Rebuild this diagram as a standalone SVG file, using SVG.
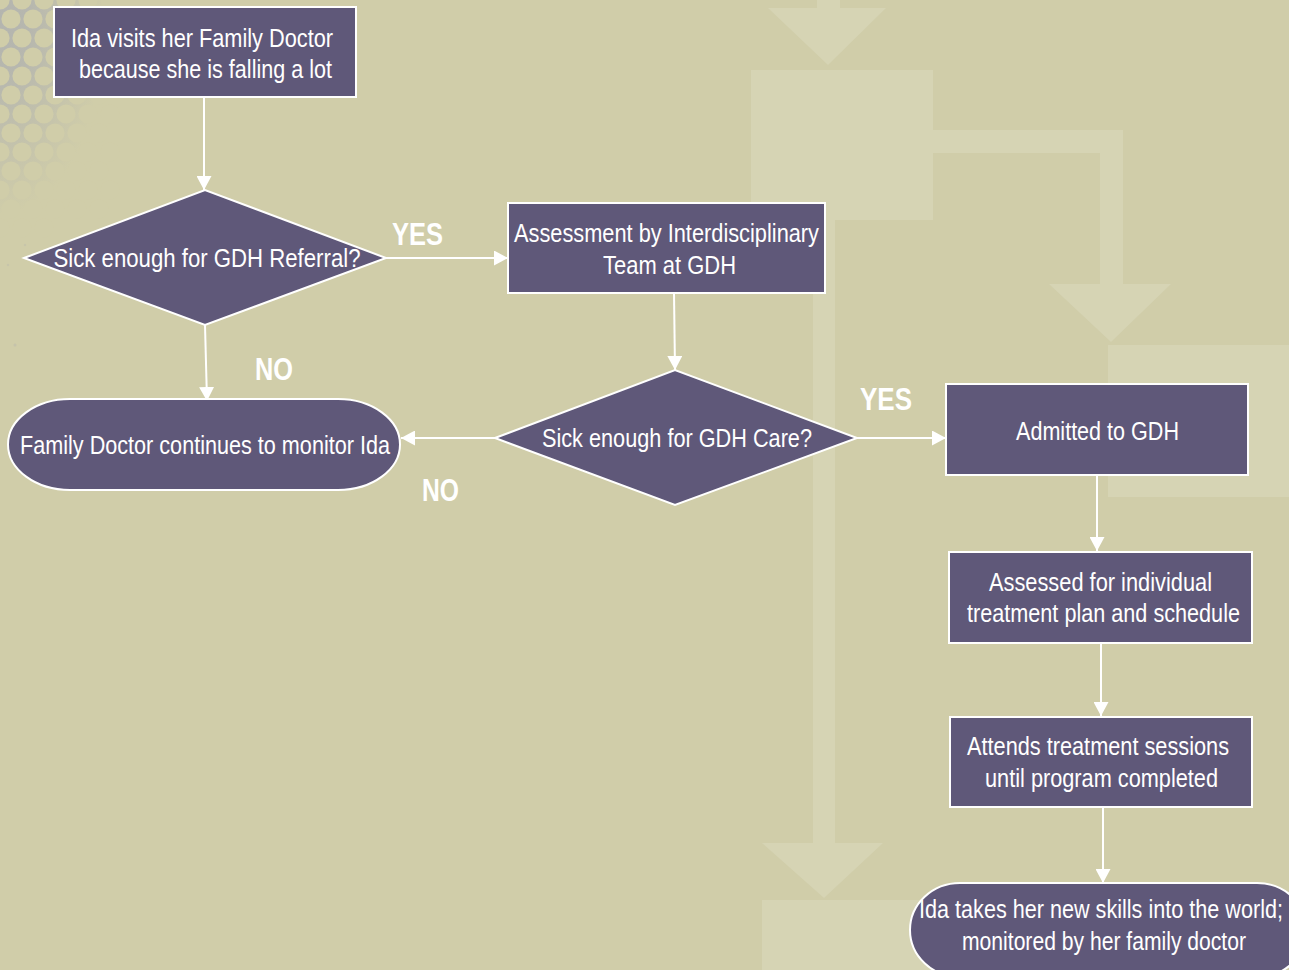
<svg xmlns="http://www.w3.org/2000/svg" xmlns:xlink="http://www.w3.org/1999/xlink" width="1289" height="970" viewBox="0 0 1289 970">
  <style>
    .bg { fill: #D0CDA9; }
    .wm { fill: #D6D4B4; }
    .deco { fill: #B4B5AF; }
    .hole { fill: #D0CDA9; }
    .node { fill: #5F5879; stroke: #FFFFFF; stroke-width: 2; }
    .t { font-family: "Liberation Sans Narrow", "Arial Narrow", "Liberation Sans", Arial, sans-serif; font-size: 25px; fill: #FFFFFF; text-anchor: middle; }
    .lbl { font-family: "Liberation Sans Narrow", "Arial Narrow", "Liberation Sans", Arial, sans-serif; font-size: 32px; font-weight: bold; fill: #FFFFFF; text-anchor: middle; }
    .edge { stroke: #FFFFFF; stroke-width: 2; fill: none; marker-end: url(#arrow); }
  </style>
  <defs>
    <marker id="arrow" markerUnits="userSpaceOnUse" viewBox="0 0 14 15" markerWidth="14" markerHeight="15" refX="14" refY="7.5" orient="auto">
      <path d="M0,0 L14,7.5 L0,15 Z" fill="#FFFFFF"/>
    </marker>
    <radialGradient id="fade" gradientUnits="userSpaceOnUse" cx="0" cy="20" r="150" gradientTransform="translate(0,20) scale(0.7,1.3) translate(0,-20)">
      <stop offset="0" stop-color="#B4B5AF" stop-opacity="1"/>
      <stop offset="0.3" stop-color="#B4B5AF" stop-opacity="0.9"/>
      <stop offset="1" stop-color="#B4B5AF" stop-opacity="0"/>
    </radialGradient>
    <circle id="hole" r="9.6" class="hole"/>
  </defs>

  <rect class="bg" x="0" y="0" width="1289" height="970"/>

  <!-- background watermark flowchart -->
  <g id="watermark" class="wm">
    <rect x="817" y="0" width="23" height="9"/>
    <polygon points="768,8 886,8 828,65"/>
    <rect x="751" y="70" width="182" height="150"/>
    <rect x="813" y="220" width="22" height="623"/>
    <polygon points="762,843 883,843 824,898"/>
    <rect x="762" y="900" width="182" height="70"/>
    <rect x="933" y="130" width="190" height="23"/>
    <rect x="1100" y="130" width="23" height="154"/>
    <polygon points="1049,284 1171,284 1111,342"/>
    <rect x="1108" y="345" width="181" height="152"/>
  </g>

  <!-- top-left decoration -->
  <g id="decoration">
    <rect x="0" y="0" width="120" height="230" fill="url(#fade)"/>
    <use xlink:href="#hole" x="0" y="0"/>
    <use xlink:href="#hole" x="22" y="0"/>
    <use xlink:href="#hole" x="44" y="0"/>
    <use xlink:href="#hole" x="66" y="0"/>
    <use xlink:href="#hole" x="88" y="0"/>
    <use xlink:href="#hole" x="110" y="0"/>
    <use xlink:href="#hole" x="11" y="19"/>
    <use xlink:href="#hole" x="33" y="19"/>
    <use xlink:href="#hole" x="55" y="19"/>
    <use xlink:href="#hole" x="77" y="19"/>
    <use xlink:href="#hole" x="99" y="19"/>
    <use xlink:href="#hole" x="0" y="38"/>
    <use xlink:href="#hole" x="22" y="38"/>
    <use xlink:href="#hole" x="44" y="38"/>
    <use xlink:href="#hole" x="66" y="38"/>
    <use xlink:href="#hole" x="88" y="38"/>
    <use xlink:href="#hole" x="110" y="38"/>
    <use xlink:href="#hole" x="11" y="57"/>
    <use xlink:href="#hole" x="33" y="57"/>
    <use xlink:href="#hole" x="55" y="57"/>
    <use xlink:href="#hole" x="77" y="57"/>
    <use xlink:href="#hole" x="99" y="57"/>
    <use xlink:href="#hole" x="0" y="76"/>
    <use xlink:href="#hole" x="22" y="76"/>
    <use xlink:href="#hole" x="44" y="76"/>
    <use xlink:href="#hole" x="66" y="76"/>
    <use xlink:href="#hole" x="88" y="76"/>
    <use xlink:href="#hole" x="110" y="76"/>
    <use xlink:href="#hole" x="11" y="95"/>
    <use xlink:href="#hole" x="33" y="95"/>
    <use xlink:href="#hole" x="55" y="95"/>
    <use xlink:href="#hole" x="77" y="95"/>
    <use xlink:href="#hole" x="99" y="95"/>
    <use xlink:href="#hole" x="0" y="114"/>
    <use xlink:href="#hole" x="22" y="114"/>
    <use xlink:href="#hole" x="44" y="114"/>
    <use xlink:href="#hole" x="66" y="114"/>
    <use xlink:href="#hole" x="88" y="114"/>
    <use xlink:href="#hole" x="110" y="114"/>
    <use xlink:href="#hole" x="11" y="133"/>
    <use xlink:href="#hole" x="33" y="133"/>
    <use xlink:href="#hole" x="55" y="133"/>
    <use xlink:href="#hole" x="77" y="133"/>
    <use xlink:href="#hole" x="99" y="133"/>
    <use xlink:href="#hole" x="0" y="152"/>
    <use xlink:href="#hole" x="22" y="152"/>
    <use xlink:href="#hole" x="44" y="152"/>
    <use xlink:href="#hole" x="66" y="152"/>
    <use xlink:href="#hole" x="88" y="152"/>
    <use xlink:href="#hole" x="110" y="152"/>
    <use xlink:href="#hole" x="11" y="171"/>
    <use xlink:href="#hole" x="33" y="171"/>
    <use xlink:href="#hole" x="55" y="171"/>
    <use xlink:href="#hole" x="77" y="171"/>
    <use xlink:href="#hole" x="99" y="171"/>
    <use xlink:href="#hole" x="0" y="190"/>
    <use xlink:href="#hole" x="22" y="190"/>
    <use xlink:href="#hole" x="44" y="190"/>
    <use xlink:href="#hole" x="66" y="190"/>
    <use xlink:href="#hole" x="88" y="190"/>
    <use xlink:href="#hole" x="110" y="190"/>
    <use xlink:href="#hole" x="11" y="209"/>
    <use xlink:href="#hole" x="33" y="209"/>
    <use xlink:href="#hole" x="55" y="209"/>
    <use xlink:href="#hole" x="77" y="209"/>
    <use xlink:href="#hole" x="99" y="209"/>
    <use xlink:href="#hole" x="0" y="228"/>
    <use xlink:href="#hole" x="22" y="228"/>
    <use xlink:href="#hole" x="44" y="228"/>
    <g class="deco">
      <circle cx="25" cy="245" r="1.2" opacity="0.3"/>
      <circle cx="8" cy="265" r="1.2" opacity="0.3"/>
      <circle cx="15" cy="345" r="1.5" opacity="0.4"/>
    </g>
  </g>

  <!-- connectors -->
  <g id="connectors">
    <line class="edge" x1="204" y1="97" x2="204" y2="190"/>
    <line class="edge" x1="386" y1="258" x2="508" y2="258"/>
    <line class="edge" x1="205" y1="325" x2="207" y2="401"/>
    <line class="edge" x1="674" y1="293" x2="675" y2="370"/>
    <line class="edge" x1="495" y1="438" x2="401" y2="438"/>
    <line class="edge" x1="857" y1="438" x2="946" y2="438"/>
    <line class="edge" x1="1097" y1="475" x2="1097" y2="551"/>
    <line class="edge" x1="1101" y1="643" x2="1101" y2="716"/>
    <line class="edge" x1="1103" y1="807" x2="1103" y2="883"/>
  </g>

  <!-- edge labels -->
  <g id="labels">
    <text class="lbl" x="417.5" y="245" textLength="51" lengthAdjust="spacingAndGlyphs">YES</text>
    <text class="lbl" x="274" y="380" textLength="38" lengthAdjust="spacingAndGlyphs">NO</text>
    <text class="lbl" x="886" y="410" textLength="52" lengthAdjust="spacingAndGlyphs">YES</text>
    <text class="lbl" x="440.5" y="501" textLength="37" lengthAdjust="spacingAndGlyphs">NO</text>
  </g>

  <g id="n1">
    <rect class="node" x="54" y="7" width="302" height="90"/>
    <text class="t" x="202" y="47" textLength="262" lengthAdjust="spacingAndGlyphs">Ida visits her Family Doctor</text>
    <text class="t" x="205.5" y="78" textLength="253" lengthAdjust="spacingAndGlyphs">because she is falling a lot</text>
  </g>

  <g id="n2">
    <polygon class="node" points="24,258 205,190 386,258 205,325"/>
    <text class="t" x="207" y="267" textLength="307" lengthAdjust="spacingAndGlyphs">Sick enough for GDH Referral?</text>
  </g>

  <g id="n3">
    <rect class="node" x="508" y="203" width="317" height="90"/>
    <text class="t" x="666.5" y="242" textLength="305" lengthAdjust="spacingAndGlyphs">Assessment by Interdisciplinary</text>
    <text class="t" x="669.5" y="274" textLength="133" lengthAdjust="spacingAndGlyphs">Team at GDH</text>
  </g>

  <g id="n4">
    <rect class="node" x="8" y="399" width="392" height="91" rx="62" ry="45.5"/>
    <text class="t" x="205" y="454" textLength="370" lengthAdjust="spacingAndGlyphs">Family Doctor continues to monitor Ida</text>
  </g>

  <g id="n5">
    <polygon class="node" points="495,438 675,370 857,438 675,505"/>
    <text class="t" x="677" y="447" textLength="270" lengthAdjust="spacingAndGlyphs">Sick enough for GDH Care?</text>
  </g>

  <g id="n6">
    <rect class="node" x="946" y="384" width="302" height="91"/>
    <text class="t" x="1097.5" y="440" textLength="163" lengthAdjust="spacingAndGlyphs">Admitted to GDH</text>
  </g>

  <g id="n7">
    <rect class="node" x="949" y="552" width="303" height="91"/>
    <text class="t" x="1100.5" y="591" textLength="223" lengthAdjust="spacingAndGlyphs">Assessed for individual</text>
    <text class="t" x="1103.5" y="622" textLength="273" lengthAdjust="spacingAndGlyphs">treatment plan and schedule</text>
  </g>

  <g id="n8">
    <rect class="node" x="950" y="717" width="302" height="90"/>
    <text class="t" x="1098" y="755" textLength="262" lengthAdjust="spacingAndGlyphs">Attends treatment sessions</text>
    <text class="t" x="1101.5" y="787" textLength="233" lengthAdjust="spacingAndGlyphs">until program completed</text>
  </g>

  <g id="n9">
    <rect class="node" x="910" y="883" width="397" height="94" rx="50" ry="47"/>
    <text class="t" x="1101" y="918" textLength="364" lengthAdjust="spacingAndGlyphs">Ida takes her new skills into the world;</text>
    <text class="t" x="1104" y="950" textLength="284" lengthAdjust="spacingAndGlyphs">monitored by her family doctor</text>
  </g>
</svg>
